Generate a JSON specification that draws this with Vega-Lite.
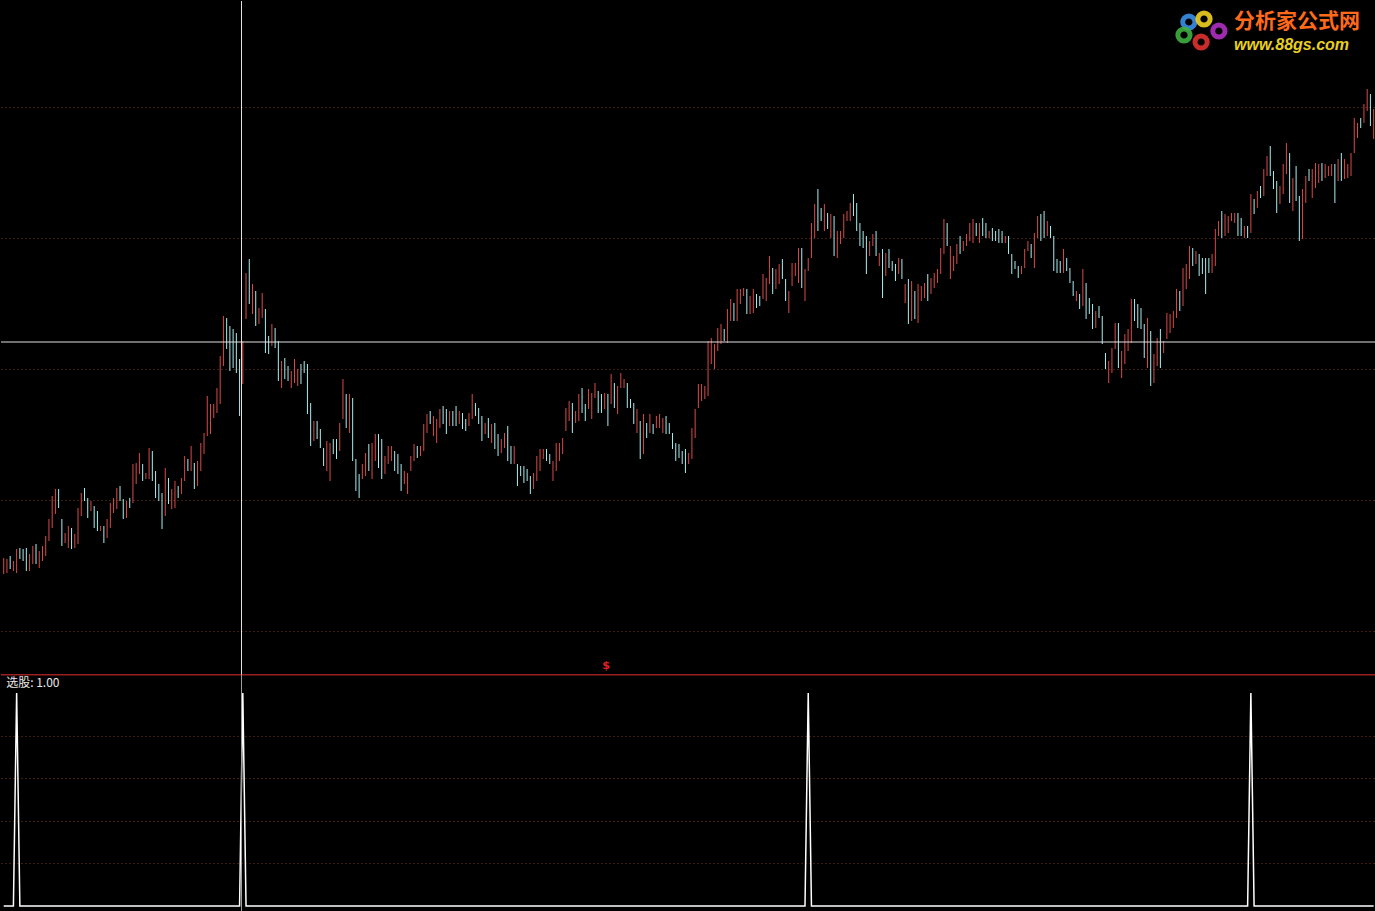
{
"$schema": "https://vega.github.io/schema/vega-lite/v6.json",
"background": "#000000",
"padding": 0,
"spacing": 0,
"bounds": "flush",
"config": {"view": {"stroke": null}, "concat": {"spacing": 0}},
"datasets": {"bars": [
{"i":0,"h":14.3,"l":12.7,"d":"u","s":0},{"i":1,"h":14.2,"l":12.8,"d":"u","s":0},{"i":2,"h":14.5,"l":13.2,"d":"d","s":0},{"i":3,"h":14.0,"l":13.0,"d":"u","s":0},{"i":4,"h":15.2,"l":12.8,"d":"u","s":1},
{"i":5,"h":15.3,"l":14.2,"d":"d","s":0},{"i":6,"h":15.2,"l":14.0,"d":"d","s":0},{"i":7,"h":15.3,"l":13.0,"d":"d","s":0},{"i":8,"h":14.7,"l":13.0,"d":"u","s":0},{"i":9,"h":15.5,"l":13.7,"d":"u","s":0},
{"i":10,"h":15.7,"l":13.7,"d":"d","s":0},{"i":11,"h":15.0,"l":13.3,"d":"u","s":0},{"i":12,"h":15.5,"l":14.0,"d":"u","s":0},{"i":13,"h":16.5,"l":14.5,"d":"u","s":0},{"i":14,"h":18.2,"l":16.0,"d":"u","s":0},
{"i":15,"h":20.5,"l":17.3,"d":"u","s":0},{"i":16,"h":21.2,"l":18.7,"d":"u","s":0},{"i":17,"h":21.2,"l":19.3,"d":"d","s":0},{"i":18,"h":18.2,"l":15.5,"d":"d","s":0},{"i":19,"h":16.8,"l":15.8,"d":"u","s":0},
{"i":20,"h":17.5,"l":15.3,"d":"u","s":0},{"i":21,"h":17.3,"l":15.2,"d":"d","s":0},{"i":22,"h":16.7,"l":15.3,"d":"u","s":0},{"i":23,"h":19.3,"l":15.7,"d":"u","s":0},{"i":24,"h":20.8,"l":18.5,"d":"u","s":0},
{"i":25,"h":21.3,"l":20.0,"d":"d","s":0},{"i":26,"h":20.3,"l":18.3,"d":"d","s":0},{"i":27,"h":20.0,"l":19.0,"d":"u","s":0},{"i":28,"h":19.5,"l":17.3,"d":"d","s":0},{"i":29,"h":19.0,"l":17.0,"d":"d","s":0},
{"i":30,"h":17.5,"l":17.0,"d":"u","s":0},{"i":31,"h":17.5,"l":15.8,"d":"d","s":0},{"i":32,"h":18.2,"l":16.3,"d":"u","s":0},{"i":33,"h":19.8,"l":17.3,"d":"u","s":0},{"i":34,"h":20.3,"l":18.8,"d":"u","s":0},
{"i":35,"h":21.3,"l":19.2,"d":"u","s":0},{"i":36,"h":21.5,"l":20.0,"d":"d","s":0},{"i":37,"h":20.2,"l":18.2,"d":"d","s":0},{"i":38,"h":20.0,"l":18.3,"d":"u","s":0},{"i":39,"h":20.3,"l":19.3,"d":"d","s":0},
{"i":40,"h":23.7,"l":19.8,"d":"u","s":0},{"i":41,"h":23.8,"l":21.7,"d":"u","s":0},{"i":42,"h":24.8,"l":22.7,"d":"u","s":0},{"i":43,"h":23.7,"l":22.0,"d":"d","s":0},{"i":44,"h":22.8,"l":22.2,"d":"u","s":0},
{"i":45,"h":25.3,"l":22.2,"d":"u","s":0},{"i":46,"h":25.0,"l":22.0,"d":"d","s":0},{"i":47,"h":23.0,"l":20.3,"d":"d","s":0},{"i":48,"h":21.7,"l":20.0,"d":"d","s":0},{"i":49,"h":20.8,"l":17.2,"d":"d","s":0},
{"i":50,"h":23.3,"l":18.5,"d":"u","s":0},{"i":51,"h":22.3,"l":19.7,"d":"d","s":0},{"i":52,"h":21.2,"l":19.2,"d":"u","s":0},{"i":53,"h":22.0,"l":19.3,"d":"u","s":0},{"i":54,"h":21.5,"l":20.3,"d":"d","s":0},
{"i":55,"h":22.3,"l":20.7,"d":"u","s":0},{"i":56,"h":24.5,"l":22.0,"d":"u","s":0},{"i":57,"h":24.2,"l":23.0,"d":"d","s":0},{"i":58,"h":25.5,"l":23.0,"d":"u","s":0},{"i":59,"h":23.8,"l":21.2,"d":"d","s":0},
{"i":60,"h":24.0,"l":21.5,"d":"u","s":0},{"i":61,"h":25.8,"l":23.0,"d":"u","s":0},{"i":62,"h":26.8,"l":24.7,"d":"u","s":0},{"i":63,"h":30.5,"l":26.5,"d":"u","s":0},{"i":64,"h":29.7,"l":26.7,"d":"u","s":0},
{"i":65,"h":29.7,"l":28.3,"d":"u","s":0},{"i":66,"h":31.3,"l":28.8,"d":"u","s":0},{"i":67,"h":34.5,"l":29.7,"d":"u","s":0},{"i":68,"h":38.5,"l":33.5,"d":"u","s":0},{"i":69,"h":38.3,"l":35.2,"d":"d","s":0},
{"i":70,"h":37.5,"l":33.0,"d":"d","s":0},{"i":71,"h":37.2,"l":33.3,"d":"d","s":0},{"i":72,"h":36.8,"l":32.8,"d":"d","s":0},{"i":73,"h":34.2,"l":28.5,"d":"d","s":0},{"i":74,"h":36.0,"l":31.7,"d":"u","s":1},
{"i":75,"h":42.8,"l":38.2,"d":"u","s":0},{"i":76,"h":44.2,"l":39.7,"d":"d","s":0},{"i":77,"h":41.7,"l":38.7,"d":"u","s":0},{"i":78,"h":41.0,"l":37.5,"d":"d","s":0},{"i":79,"h":39.3,"l":37.7,"d":"u","s":0},
{"i":80,"h":40.8,"l":38.3,"d":"u","s":0},{"i":81,"h":39.2,"l":34.8,"d":"d","s":0},{"i":82,"h":36.5,"l":34.7,"d":"d","s":0},{"i":83,"h":37.7,"l":35.5,"d":"u","s":0},{"i":84,"h":37.3,"l":35.3,"d":"d","s":0},
{"i":85,"h":36.0,"l":32.0,"d":"d","s":0},{"i":86,"h":34.0,"l":31.3,"d":"u","s":0},{"i":87,"h":34.3,"l":32.2,"d":"d","s":0},{"i":88,"h":33.5,"l":32.0,"d":"d","s":0},{"i":89,"h":33.0,"l":31.3,"d":"u","s":0},
{"i":90,"h":34.2,"l":31.8,"d":"u","s":0},{"i":91,"h":33.2,"l":31.5,"d":"u","s":0},{"i":92,"h":33.7,"l":31.7,"d":"d","s":0},{"i":93,"h":34.0,"l":32.8,"d":"d","s":0},{"i":94,"h":33.7,"l":28.7,"d":"d","s":0},
{"i":95,"h":29.8,"l":25.5,"d":"d","s":0},{"i":96,"h":28.0,"l":26.0,"d":"u","s":0},{"i":97,"h":28.0,"l":26.2,"d":"d","s":0},{"i":98,"h":27.2,"l":25.3,"d":"d","s":0},{"i":99,"h":25.3,"l":23.5,"d":"d","s":0},
{"i":100,"h":26.0,"l":23.0,"d":"u","s":0},{"i":101,"h":25.8,"l":22.0,"d":"u","s":0},{"i":102,"h":26.2,"l":24.7,"d":"d","s":0},{"i":103,"h":26.2,"l":24.2,"d":"d","s":0},{"i":104,"h":27.8,"l":25.0,"d":"u","s":0},
{"i":105,"h":32.2,"l":28.2,"d":"u","s":0},{"i":106,"h":30.7,"l":27.3,"d":"d","s":0},{"i":107,"h":30.7,"l":26.8,"d":"u","s":0},{"i":108,"h":30.3,"l":24.0,"d":"d","s":0},{"i":109,"h":24.2,"l":21.0,"d":"d","s":0},
{"i":110,"h":22.7,"l":20.3,"d":"d","s":0},{"i":111,"h":23.7,"l":22.2,"d":"u","s":0},{"i":112,"h":24.8,"l":22.5,"d":"u","s":0},{"i":113,"h":25.7,"l":23.0,"d":"d","s":0},{"i":114,"h":25.8,"l":22.2,"d":"u","s":0},
{"i":115,"h":26.7,"l":24.0,"d":"u","s":0},{"i":116,"h":26.7,"l":23.3,"d":"d","s":0},{"i":117,"h":26.2,"l":22.2,"d":"d","s":0},{"i":118,"h":24.5,"l":22.7,"d":"u","s":0},{"i":119,"h":25.5,"l":23.7,"d":"u","s":0},
{"i":120,"h":25.5,"l":24.0,"d":"u","s":0},{"i":121,"h":25.0,"l":23.0,"d":"d","s":0},{"i":122,"h":24.7,"l":22.7,"d":"d","s":0},{"i":123,"h":23.7,"l":21.0,"d":"d","s":0},{"i":124,"h":23.0,"l":21.7,"d":"u","s":0},
{"i":125,"h":22.8,"l":20.7,"d":"u","s":0},{"i":126,"h":24.5,"l":23.0,"d":"u","s":0},{"i":127,"h":25.7,"l":24.0,"d":"u","s":0},{"i":128,"h":25.5,"l":24.3,"d":"d","s":0},{"i":129,"h":25.5,"l":24.5,"d":"u","s":0},
{"i":130,"h":27.7,"l":25.0,"d":"u","s":0},{"i":131,"h":28.7,"l":26.8,"d":"u","s":0},{"i":132,"h":29.0,"l":27.7,"d":"d","s":0},{"i":133,"h":28.5,"l":26.5,"d":"u","s":0},{"i":134,"h":28.2,"l":25.8,"d":"u","s":0},
{"i":135,"h":29.2,"l":27.3,"d":"u","s":0},{"i":136,"h":29.5,"l":27.7,"d":"d","s":0},{"i":137,"h":29.2,"l":26.7,"d":"d","s":0},{"i":138,"h":29.0,"l":27.5,"d":"u","s":0},{"i":139,"h":29.0,"l":27.5,"d":"d","s":0},
{"i":140,"h":29.5,"l":27.5,"d":"d","s":0},{"i":141,"h":29.0,"l":27.7,"d":"u","s":0},{"i":142,"h":28.8,"l":27.2,"d":"d","s":0},{"i":143,"h":28.2,"l":27.0,"d":"d","s":0},{"i":144,"h":28.8,"l":27.5,"d":"u","s":0},
{"i":145,"h":30.7,"l":28.2,"d":"u","s":0},{"i":146,"h":29.8,"l":28.5,"d":"d","s":0},{"i":147,"h":29.3,"l":27.7,"d":"d","s":0},{"i":148,"h":28.5,"l":26.0,"d":"d","s":0},{"i":149,"h":27.8,"l":26.7,"d":"u","s":0},
{"i":150,"h":28.3,"l":26.3,"d":"d","s":0},{"i":151,"h":27.7,"l":25.8,"d":"u","s":0},{"i":152,"h":27.8,"l":25.2,"d":"d","s":0},{"i":153,"h":26.7,"l":24.5,"d":"d","s":0},{"i":154,"h":26.2,"l":24.8,"d":"u","s":0},
{"i":155,"h":26.8,"l":25.3,"d":"u","s":0},{"i":156,"h":27.5,"l":24.0,"d":"d","s":0},{"i":157,"h":25.5,"l":23.7,"d":"d","s":0},{"i":158,"h":25.5,"l":23.7,"d":"u","s":0},{"i":159,"h":23.7,"l":21.5,"d":"d","s":0},
{"i":160,"h":23.5,"l":22.5,"d":"d","s":0},{"i":161,"h":23.5,"l":21.8,"d":"d","s":0},{"i":162,"h":23.2,"l":22.0,"d":"d","s":0},{"i":163,"h":22.5,"l":20.7,"d":"d","s":0},{"i":164,"h":22.8,"l":21.2,"d":"u","s":0},
{"i":165,"h":24.5,"l":22.0,"d":"u","s":0},{"i":166,"h":25.2,"l":23.0,"d":"u","s":0},{"i":167,"h":25.2,"l":24.2,"d":"u","s":0},{"i":168,"h":25.2,"l":24.0,"d":"d","s":0},{"i":169,"h":24.7,"l":23.7,"d":"d","s":0},
{"i":170,"h":24.0,"l":22.0,"d":"u","s":0},{"i":171,"h":25.8,"l":23.0,"d":"u","s":0},{"i":172,"h":25.8,"l":24.0,"d":"u","s":0},{"i":173,"h":26.3,"l":24.7,"d":"u","s":0},{"i":174,"h":29.3,"l":27.0,"d":"u","s":0},
{"i":175,"h":30.0,"l":28.0,"d":"u","s":0},{"i":176,"h":29.8,"l":26.8,"d":"d","s":0},{"i":177,"h":29.0,"l":27.8,"d":"u","s":0},{"i":178,"h":30.7,"l":28.0,"d":"u","s":0},{"i":179,"h":31.3,"l":28.8,"d":"d","s":0},
{"i":180,"h":29.7,"l":28.0,"d":"d","s":0},{"i":181,"h":31.2,"l":29.2,"d":"u","s":0},{"i":182,"h":30.8,"l":28.2,"d":"u","s":0},{"i":183,"h":31.8,"l":30.3,"d":"u","s":0},{"i":184,"h":31.0,"l":28.8,"d":"d","s":0},
{"i":185,"h":30.7,"l":28.8,"d":"d","s":0},{"i":186,"h":30.8,"l":29.2,"d":"u","s":0},{"i":187,"h":30.7,"l":27.5,"d":"d","s":0},{"i":188,"h":32.7,"l":29.7,"d":"u","s":0},{"i":189,"h":31.8,"l":29.3,"d":"d","s":0},
{"i":190,"h":31.5,"l":28.7,"d":"u","s":0},{"i":191,"h":32.8,"l":31.3,"d":"u","s":0},{"i":192,"h":32.2,"l":31.3,"d":"u","s":0},{"i":193,"h":31.8,"l":29.3,"d":"d","s":0},{"i":194,"h":30.2,"l":29.3,"d":"d","s":0},
{"i":195,"h":29.8,"l":27.7,"d":"d","s":0},{"i":196,"h":29.2,"l":26.8,"d":"u","s":0},{"i":197,"h":28.0,"l":24.2,"d":"d","s":0},{"i":198,"h":28.7,"l":24.7,"d":"u","s":0},{"i":199,"h":27.8,"l":26.3,"d":"d","s":0},
{"i":200,"h":28.7,"l":26.8,"d":"u","s":0},{"i":201,"h":27.7,"l":26.7,"d":"d","s":0},{"i":202,"h":28.5,"l":27.3,"d":"u","s":0},{"i":203,"h":28.7,"l":27.3,"d":"u","s":0},{"i":204,"h":28.3,"l":26.8,"d":"u","s":0},
{"i":205,"h":28.5,"l":26.7,"d":"d","s":0},{"i":206,"h":27.8,"l":26.7,"d":"d","s":0},{"i":207,"h":26.8,"l":25.2,"d":"d","s":0},{"i":208,"h":25.8,"l":24.0,"d":"d","s":0},{"i":209,"h":25.7,"l":24.3,"d":"d","s":0},
{"i":210,"h":25.0,"l":23.7,"d":"d","s":0},{"i":211,"h":25.2,"l":22.8,"d":"d","s":0},{"i":212,"h":24.8,"l":23.7,"d":"u","s":0},{"i":213,"h":27.3,"l":24.2,"d":"u","s":0},{"i":214,"h":29.2,"l":26.3,"d":"u","s":0},
{"i":215,"h":31.7,"l":29.3,"d":"u","s":0},{"i":216,"h":31.7,"l":30.0,"d":"u","s":0},{"i":217,"h":31.5,"l":30.2,"d":"u","s":0},{"i":218,"h":36.0,"l":30.5,"d":"u","s":0},{"i":219,"h":36.3,"l":33.7,"d":"u","s":0},
{"i":220,"h":35.7,"l":33.2,"d":"u","s":0},{"i":221,"h":37.3,"l":35.0,"d":"u","s":0},{"i":222,"h":37.7,"l":35.7,"d":"u","s":0},{"i":223,"h":37.2,"l":36.0,"d":"d","s":0},{"i":224,"h":39.2,"l":35.8,"d":"u","s":0},
{"i":225,"h":40.2,"l":38.0,"d":"u","s":0},{"i":226,"h":39.8,"l":38.0,"d":"d","s":0},{"i":227,"h":41.2,"l":38.0,"d":"u","s":0},{"i":228,"h":41.2,"l":39.7,"d":"u","s":0},{"i":229,"h":41.3,"l":40.5,"d":"u","s":0},
{"i":230,"h":41.2,"l":38.7,"d":"d","s":0},{"i":231,"h":40.5,"l":38.7,"d":"u","s":0},{"i":232,"h":41.2,"l":38.8,"d":"u","s":0},{"i":233,"h":40.7,"l":39.3,"d":"d","s":0},{"i":234,"h":40.5,"l":39.5,"d":"d","s":0},
{"i":235,"h":42.7,"l":40.2,"d":"u","s":0},{"i":236,"h":42.3,"l":40.0,"d":"u","s":0},{"i":237,"h":44.5,"l":41.7,"d":"u","s":0},{"i":238,"h":43.3,"l":40.7,"d":"d","s":0},{"i":239,"h":43.2,"l":41.2,"d":"u","s":0},
{"i":240,"h":43.7,"l":41.7,"d":"u","s":0},{"i":241,"h":44.2,"l":42.2,"d":"d","s":0},{"i":242,"h":42.2,"l":40.0,"d":"d","s":0},{"i":243,"h":41.0,"l":38.8,"d":"u","s":0},{"i":244,"h":43.8,"l":41.5,"d":"u","s":0},
{"i":245,"h":43.8,"l":42.5,"d":"u","s":0},{"i":246,"h":45.3,"l":41.8,"d":"u","s":0},{"i":247,"h":45.3,"l":41.3,"d":"d","s":0},{"i":248,"h":43.2,"l":40.0,"d":"u","s":0},{"i":249,"h":44.3,"l":43.0,"d":"u","s":1},
{"i":250,"h":47.8,"l":44.3,"d":"u","s":0},{"i":251,"h":49.7,"l":46.3,"d":"u","s":0},{"i":252,"h":51.2,"l":47.0,"d":"d","s":0},{"i":253,"h":49.3,"l":48.0,"d":"d","s":0},{"i":254,"h":49.7,"l":47.0,"d":"u","s":0},
{"i":255,"h":48.8,"l":47.2,"d":"d","s":0},{"i":256,"h":48.7,"l":46.3,"d":"u","s":0},{"i":257,"h":48.5,"l":44.5,"d":"d","s":0},{"i":258,"h":47.0,"l":44.3,"d":"u","s":0},{"i":259,"h":47.0,"l":45.7,"d":"u","s":0},
{"i":260,"h":48.7,"l":46.3,"d":"u","s":0},{"i":261,"h":49.0,"l":48.0,"d":"u","s":0},{"i":262,"h":49.8,"l":48.0,"d":"u","s":0},{"i":263,"h":50.7,"l":48.5,"d":"d","s":0},{"i":264,"h":49.8,"l":47.0,"d":"d","s":0},
{"i":265,"h":47.8,"l":45.5,"d":"d","s":0},{"i":266,"h":47.0,"l":45.3,"d":"d","s":0},{"i":267,"h":46.5,"l":42.7,"d":"d","s":0},{"i":268,"h":46.0,"l":44.5,"d":"u","s":0},{"i":269,"h":46.7,"l":45.5,"d":"u","s":0},
{"i":270,"h":47.0,"l":44.5,"d":"d","s":0},{"i":271,"h":44.8,"l":43.5,"d":"u","s":0},{"i":272,"h":45.2,"l":40.3,"d":"d","s":0},{"i":273,"h":44.8,"l":42.5,"d":"u","s":0},{"i":274,"h":45.2,"l":43.3,"d":"d","s":0},
{"i":275,"h":44.0,"l":43.0,"d":"d","s":0},{"i":276,"h":43.7,"l":42.0,"d":"d","s":0},{"i":277,"h":44.3,"l":42.7,"d":"u","s":0},{"i":278,"h":44.2,"l":42.2,"d":"d","s":0},{"i":279,"h":41.7,"l":39.8,"d":"u","s":0},
{"i":280,"h":42.2,"l":37.7,"d":"d","s":0},{"i":281,"h":42.0,"l":38.0,"d":"u","s":0},{"i":282,"h":41.0,"l":38.2,"d":"d","s":0},{"i":283,"h":41.7,"l":37.8,"d":"u","s":0},{"i":284,"h":41.5,"l":40.0,"d":"u","s":0},
{"i":285,"h":41.8,"l":40.3,"d":"u","s":0},{"i":286,"h":42.7,"l":40.0,"d":"d","s":0},{"i":287,"h":42.3,"l":40.7,"d":"u","s":0},{"i":288,"h":42.8,"l":41.3,"d":"u","s":0},{"i":289,"h":43.2,"l":41.8,"d":"u","s":0},
{"i":290,"h":45.3,"l":42.7,"d":"u","s":0},{"i":291,"h":48.2,"l":44.7,"d":"u","s":0},{"i":292,"h":47.8,"l":45.5,"d":"d","s":0},{"i":293,"h":45.5,"l":42.2,"d":"u","s":0},{"i":294,"h":44.5,"l":43.0,"d":"u","s":0},
{"i":295,"h":45.7,"l":43.7,"d":"u","s":0},{"i":296,"h":46.5,"l":44.7,"d":"d","s":0},{"i":297,"h":46.0,"l":45.0,"d":"u","s":0},{"i":298,"h":46.7,"l":45.5,"d":"u","s":0},{"i":299,"h":47.8,"l":46.0,"d":"u","s":0},
{"i":300,"h":48.2,"l":45.8,"d":"u","s":0},{"i":301,"h":47.8,"l":46.5,"d":"d","s":0},{"i":302,"h":47.8,"l":45.8,"d":"u","s":0},{"i":303,"h":48.3,"l":46.5,"d":"d","s":0},{"i":304,"h":47.8,"l":46.3,"d":"d","s":0},
{"i":305,"h":47.0,"l":46.3,"d":"u","s":0},{"i":306,"h":47.3,"l":46.0,"d":"d","s":0},{"i":307,"h":47.0,"l":46.0,"d":"d","s":0},{"i":308,"h":47.2,"l":45.8,"d":"d","s":0},{"i":309,"h":47.0,"l":45.8,"d":"d","s":0},
{"i":310,"h":46.5,"l":45.8,"d":"u","s":0},{"i":311,"h":46.5,"l":44.7,"d":"d","s":0},{"i":312,"h":44.7,"l":42.7,"d":"d","s":0},{"i":313,"h":44.0,"l":43.2,"d":"d","s":0},{"i":314,"h":43.5,"l":42.3,"d":"d","s":0},
{"i":315,"h":43.5,"l":42.7,"d":"u","s":0},{"i":316,"h":45.2,"l":43.3,"d":"u","s":0},{"i":317,"h":46.0,"l":45.0,"d":"u","s":0},{"i":318,"h":45.7,"l":44.3,"d":"d","s":0},{"i":319,"h":46.8,"l":43.3,"d":"u","s":0},
{"i":320,"h":48.5,"l":46.3,"d":"u","s":0},{"i":321,"h":48.7,"l":46.0,"d":"d","s":0},{"i":322,"h":49.0,"l":46.3,"d":"d","s":0},{"i":323,"h":48.0,"l":46.5,"d":"u","s":0},{"i":324,"h":47.5,"l":46.3,"d":"d","s":0},
{"i":325,"h":46.5,"l":43.0,"d":"d","s":0},{"i":326,"h":44.2,"l":42.8,"d":"d","s":0},{"i":327,"h":44.0,"l":42.8,"d":"d","s":0},{"i":328,"h":45.2,"l":42.8,"d":"u","s":0},{"i":329,"h":44.3,"l":43.0,"d":"d","s":0},
{"i":330,"h":43.3,"l":41.8,"d":"d","s":0},{"i":331,"h":42.0,"l":40.5,"d":"d","s":0},{"i":332,"h":41.0,"l":40.0,"d":"u","s":0},{"i":333,"h":40.7,"l":39.2,"d":"d","s":0},{"i":334,"h":43.2,"l":39.5,"d":"u","s":0},
{"i":335,"h":41.8,"l":38.2,"d":"d","s":0},{"i":336,"h":40.3,"l":38.7,"d":"d","s":0},{"i":337,"h":39.7,"l":37.2,"d":"d","s":0},{"i":338,"h":39.0,"l":37.3,"d":"u","s":0},{"i":339,"h":39.5,"l":38.3,"d":"d","s":0},
{"i":340,"h":38.5,"l":35.7,"d":"d","s":0},{"i":341,"h":34.8,"l":33.2,"d":"d","s":0},{"i":342,"h":34.0,"l":31.8,"d":"u","s":0},{"i":343,"h":35.3,"l":32.8,"d":"u","s":0},{"i":344,"h":37.8,"l":35.2,"d":"u","s":0},
{"i":345,"h":37.8,"l":33.3,"d":"d","s":0},{"i":346,"h":35.0,"l":32.3,"d":"u","s":0},{"i":347,"h":36.7,"l":33.7,"d":"u","s":0},{"i":348,"h":37.2,"l":35.0,"d":"u","s":0},{"i":349,"h":40.2,"l":35.8,"d":"u","s":0},
{"i":350,"h":40.2,"l":38.0,"d":"d","s":0},{"i":351,"h":39.7,"l":37.3,"d":"d","s":0},{"i":352,"h":39.3,"l":37.2,"d":"d","s":0},{"i":353,"h":37.7,"l":34.3,"d":"d","s":0},{"i":354,"h":38.3,"l":33.3,"d":"u","s":0},
{"i":355,"h":37.0,"l":31.5,"d":"d","s":0},{"i":356,"h":34.7,"l":31.8,"d":"u","s":0},{"i":357,"h":36.3,"l":33.5,"d":"u","s":0},{"i":358,"h":37.2,"l":33.3,"d":"d","s":0},{"i":359,"h":36.0,"l":34.8,"d":"u","s":0},
{"i":360,"h":38.8,"l":36.2,"d":"u","s":0},{"i":361,"h":38.7,"l":36.8,"d":"u","s":0},{"i":362,"h":39.0,"l":37.3,"d":"u","s":0},{"i":363,"h":41.2,"l":38.3,"d":"u","s":0},{"i":364,"h":41.0,"l":39.0,"d":"d","s":0},
{"i":365,"h":43.3,"l":39.5,"d":"u","s":0},{"i":366,"h":43.7,"l":41.2,"d":"u","s":0},{"i":367,"h":45.5,"l":42.2,"d":"u","s":0},{"i":368,"h":45.3,"l":43.5,"d":"d","s":0},{"i":369,"h":45.0,"l":43.7,"d":"u","s":0},
{"i":370,"h":44.7,"l":42.5,"d":"d","s":0},{"i":371,"h":44.3,"l":42.7,"d":"d","s":0},{"i":372,"h":44.3,"l":40.7,"d":"d","s":0},{"i":373,"h":44.3,"l":42.8,"d":"d","s":0},{"i":374,"h":44.7,"l":42.8,"d":"u","s":0},
{"i":375,"h":47.2,"l":43.5,"d":"u","s":0},{"i":376,"h":48.0,"l":46.5,"d":"u","s":0},{"i":377,"h":49.0,"l":46.3,"d":"d","s":0},{"i":378,"h":48.7,"l":46.5,"d":"u","s":0},{"i":379,"h":48.5,"l":46.8,"d":"u","s":0},
{"i":380,"h":48.8,"l":48.0,"d":"u","s":0},{"i":381,"h":48.8,"l":47.8,"d":"u","s":0},{"i":382,"h":48.8,"l":46.5,"d":"d","s":0},{"i":383,"h":48.3,"l":46.5,"d":"d","s":0},{"i":384,"h":47.5,"l":46.3,"d":"u","s":0},
{"i":385,"h":47.5,"l":46.3,"d":"d","s":0},{"i":386,"h":50.7,"l":46.8,"d":"u","s":1},{"i":387,"h":50.2,"l":48.7,"d":"d","s":0},{"i":388,"h":51.0,"l":49.3,"d":"u","s":0},{"i":389,"h":51.5,"l":50.3,"d":"d","s":0},
{"i":390,"h":53.2,"l":50.5,"d":"u","s":0},{"i":391,"h":54.5,"l":52.5,"d":"u","s":0},{"i":392,"h":55.5,"l":52.5,"d":"d","s":0},{"i":393,"h":53.0,"l":51.2,"d":"d","s":0},{"i":394,"h":52.0,"l":48.8,"d":"d","s":0},
{"i":395,"h":51.5,"l":49.7,"d":"u","s":0},{"i":396,"h":53.7,"l":50.7,"d":"u","s":0},{"i":397,"h":55.8,"l":52.7,"d":"u","s":0},{"i":398,"h":54.8,"l":49.8,"d":"d","s":0},{"i":399,"h":52.3,"l":49.0,"d":"u","s":0},
{"i":400,"h":53.5,"l":50.0,"d":"d","s":0},{"i":401,"h":50.5,"l":46.0,"d":"d","s":0},{"i":402,"h":51.2,"l":46.2,"d":"u","s":0},{"i":403,"h":52.5,"l":49.8,"d":"u","s":0},{"i":404,"h":53.2,"l":52.0,"d":"d","s":0},
{"i":405,"h":53.2,"l":50.3,"d":"u","s":0},{"i":406,"h":53.8,"l":51.3,"d":"u","s":0},{"i":407,"h":53.7,"l":51.8,"d":"u","s":0},{"i":408,"h":53.8,"l":52.0,"d":"d","s":0},{"i":409,"h":53.7,"l":52.3,"d":"u","s":0},
{"i":410,"h":53.5,"l":52.5,"d":"u","s":0},{"i":411,"h":53.7,"l":52.5,"d":"u","s":0},{"i":412,"h":53.7,"l":49.8,"d":"d","s":0},{"i":413,"h":54.2,"l":52.0,"d":"u","s":0},{"i":414,"h":54.8,"l":52.0,"d":"d","s":0},
{"i":415,"h":54.2,"l":52.2,"d":"u","s":0},{"i":416,"h":53.7,"l":52.3,"d":"u","s":0},{"i":417,"h":54.8,"l":52.5,"d":"u","s":0},{"i":418,"h":58.3,"l":54.8,"d":"u","s":0},{"i":419,"h":57.8,"l":56.3,"d":"u","s":0},
{"i":420,"h":58.3,"l":57.3,"d":"d","s":0},{"i":421,"h":59.7,"l":57.8,"d":"u","s":0},{"i":422,"h":61.2,"l":59.0,"d":"u","s":0},{"i":423,"h":60.7,"l":57.5,"d":"d","s":0},{"i":424,"h":59.2,"l":56.2,"d":"u","s":0}
],
"logo": [
{"i":366.8,"p":67.9,"petal":"blue"},{"i":371.5,"p":68.2,"petal":"yellow"},{"i":376.1,"p":67.0,"petal":"purple"},{"i":370.6,"p":65.9,"petal":"red"},{"i":365.3,"p":66.6,"petal":"green"}
]},
"vconcat": [
{
"width": 1375, "height": 673,
"resolve": {"scale": {"color": "independent"}},
"layer": [
{"data": {"name": "bars"},
 "mark": {"type": "rule", "strokeWidth": 1},
 "encoding": {
  "x": {"field": "i", "type": "quantitative", "scale": {"domain": [-0.84, 424.73], "nice": false, "zero": false}, "axis": null},
  "y": {"field": "l", "type": "quantitative", "scale": {"domain": [2.7, 70], "nice": false, "zero": false},
        "axis": {"values": [7.0, 20.1, 33.2, 46.3, 59.4], "grid": true, "gridColor": "#7a3c1c", "gridDash": [1, 3], "gridWidth": 1, "labels": false, "ticks": false, "domain": false, "title": null}},
  "y2": {"field": "h"},
  "color": {"field": "d", "type": "nominal", "scale": {"domain": ["u", "d"], "range": ["#d84a4a", "#a8eef0"]}, "legend": null}
 }},
{"data": {"values": [{}]}, "mark": {"type": "rule", "color": "#e0e0e0", "strokeWidth": 1}, "encoding": {"x": {"datum": 73.6}}},
{"data": {"values": [{}]}, "mark": {"type": "rule", "color": "#e0e0e0", "strokeWidth": 1}, "encoding": {"y": {"datum": 35.9}}},
{"data": {"values": [{}]}, "mark": {"type": "text", "text": "$", "color": "#e02020", "fontSize": 11, "fontWeight": "bold", "font": "DejaVu Sans"}, "encoding": {"x": {"datum": 186.4}, "y": {"datum": 3.5}}},
{"data": {"name": "logo"}, "mark": {"type": "point", "shape": "circle", "filled": false, "size": 150, "strokeWidth": 5, "opacity": 0.9},
 "encoding": {"x": {"field": "i", "type": "quantitative"}, "y": {"field": "p", "type": "quantitative"},
  "color": {"field": "petal", "type": "nominal", "scale": {"domain": ["blue", "yellow", "purple", "red", "green"], "range": ["#3a8ee8", "#f0d020", "#b030c0", "#e03030", "#40b040"]}, "legend": null}}},
{"data": {"values": [{}]}, "mark": {"type": "text", "text": "分析家公式网", "color": "#ff6a1a", "fontSize": 21, "fontWeight": "bold", "font": "Noto Sans CJK SC", "align": "left", "baseline": "middle"}, "encoding": {"x": {"datum": 380.8}, "y": {"datum": 67.9}}},
{"data": {"values": [{}]}, "mark": {"type": "text", "text": "www.88gs.com", "color": "#e8d020", "fontSize": 16, "fontWeight": "bold", "fontStyle": "italic", "font": "Liberation Sans", "align": "left", "baseline": "middle"}, "encoding": {"x": {"datum": 380.8}, "y": {"datum": 65.6}}}
]
},
{
"width": 1375, "height": 238,
"layer": [
{"data": {"name": "bars"},
 "mark": {"type": "line", "color": "#ffffff", "strokeWidth": 1.5, "interpolate": "linear"},
 "encoding": {
  "x": {"field": "i", "type": "quantitative", "scale": {"domain": [-0.84, 424.73], "nice": false, "zero": false}, "axis": null},
  "y": {"field": "s", "type": "quantitative", "scale": {"domain": [-0.028, 1.089], "nice": false, "zero": false},
        "axis": {"values": [0.2, 0.4, 0.6, 0.8], "grid": true, "gridColor": "#7a3c1c", "gridDash": [1, 3], "gridWidth": 1, "labels": false, "ticks": false, "domain": false, "title": null}}
 }},
{"data": {"values": [{}]}, "mark": {"type": "rule", "color": "#9a2020", "strokeWidth": 1.5}, "encoding": {"y": {"datum": 1.085}}},
{"data": {"values": [{}]}, "mark": {"type": "rule", "color": "#a0a0a0", "strokeWidth": 1}, "encoding": {"x": {"datum": 73.6}}},
{"data": {"values": [{}]}, "mark": {"type": "text", "text": "选股: 1.00", "color": "#e8e8e8", "fontSize": 12, "font": "Noto Sans CJK SC", "align": "left", "baseline": "middle"}, "encoding": {"x": {"datum": 0.75}, "y": {"datum": 1.047}}}
]
}
]
}
